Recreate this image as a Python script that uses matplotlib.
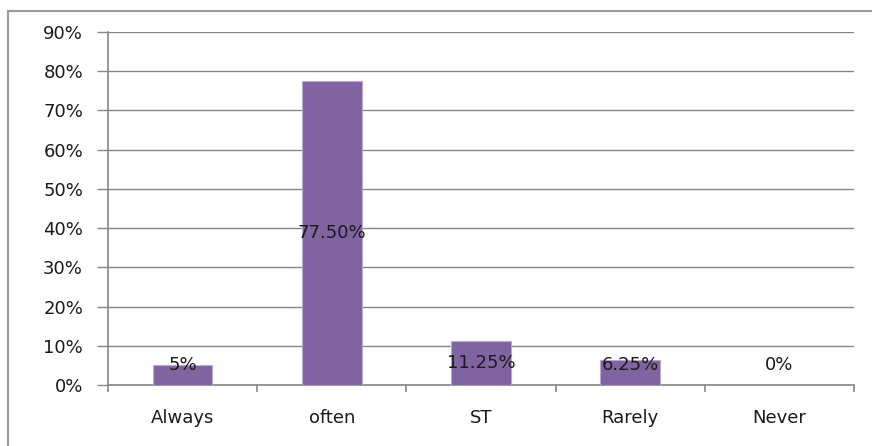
import matplotlib.pyplot as plt
from matplotlib.patches import Rectangle

categories = ['Always', 'often', 'ST', 'Rarely', 'Never']
values = [5, 77.5, 11.25, 6.25, 0]
labels = ['5%', '77.50%', '11.25%', '6.25%', '0%']
yticks = [0, 10, 20, 30, 40, 50, 60, 70, 80, 90]

plt.rcParams['font.family'] = 'DejaVu Sans'
fig = plt.figure(figsize=(8.72, 4.46), dpi=100)

# outer chart frame
fig.patches.append(Rectangle((8 / 872, -0.1), 1.0, (446 - 11) / 446 + 0.1,
                             transform=fig.transFigure, fill=False,
                             edgecolor='#9a9a9a', linewidth=1.5))

ax = fig.add_axes([108 / 872, 1 - 385 / 446, (854 - 108) / 872, (385 - 32) / 446])

x = list(range(len(categories)))
ax.bar(x, values, width=0.4, color='#8064A2', edgecolor='#b9a9cf', linewidth=0.8, zorder=3)

for i, (v, t) in enumerate(zip(values, labels)):
    ax.text(i, max(v / 2, 5.1), t, ha='center', va='center', fontsize=13, color='#1a1a1a', zorder=4)

ax.set_xlim(-0.5, len(categories) - 0.5)
ax.set_ylim(0, 90)
ax.set_yticks(yticks)
ax.set_yticklabels([f'{t}%' for t in yticks], fontsize=13, color='#1a1a1a')
ax.set_xticks(x)
ax.set_xticklabels(categories, fontsize=13, color='#1a1a1a')
ax.tick_params(axis='x', length=0, pad=17)
ax.tick_params(axis='y', length=8, color='#868686', width=1, pad=10)

# category separators below the axis
ax.set_xticks([i - 0.5 for i in range(len(categories) + 1)], minor=True)
ax.tick_params(axis='x', which='minor', length=5, color='#868686', width=1.2)

ax.grid(axis='y', color='#868686', linewidth=1, zorder=0)
for s in ['top', 'right']:
    ax.spines[s].set_visible(False)
ax.spines['left'].set_color('#868686')
ax.spines['bottom'].set_color('#868686')
ax.spines['left'].set_linewidth(1.2)
ax.spines['bottom'].set_linewidth(1.2)

fig.savefig('out.png', dpi=100)
